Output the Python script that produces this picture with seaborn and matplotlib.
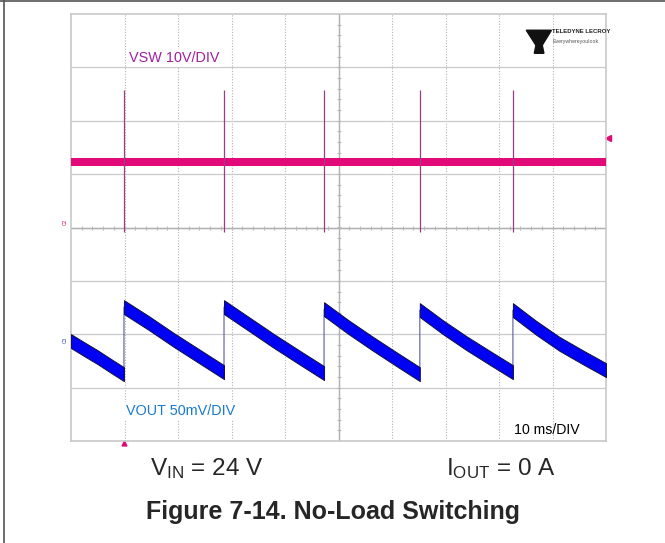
import numpy as np
import matplotlib
matplotlib.use("Agg")
import matplotlib.pyplot as plt
import seaborn as sns
from matplotlib.lines import Line2D

# ---- values read from the scope shot (time in ms, 10 ms/div) ----
spike_t = [9.9, 28.6, 47.3, 65.2, 82.6]          # VSW switching pulses
vsw_level = 11.3                                 # V, idle switch-node level
vsw_peak = 24.7                                  # V, pulse top
vsw_low = -1.9                                   # V, pulse bottom
vsw_half = 0.8                                   # V, trace thickness / 2

seg_start = [0.0, 9.9, 28.6, 47.3, 65.2, 82.6]
seg_end = [9.9, 28.6, 47.3, 65.2, 82.6, 100.0]
# VOUT ripple (mV) at 0, 1/4, 1/2, 3/4 and end of each segment
vout_pts = [
    [-0.9, -8.5, -15.9, -24.0, -31.9],
    [30.9, 15.9, 0.0, -15.0, -30.0],
    [30.9, 15.0, -0.9, -16.0, -30.9],
    [29.0, 12.5, -2.8, -17.5, -31.9],
    [28.1, 12.0, -2.8, -16.5, -30.0],
    [28.1, 11.5, -3.5, -16.0, -28.1],
]
vout_half = 6.5                                     # mV, ripple band / 2

VSW_SCALE, VSW_OFFSET = 10.0, 0.10      # V/div, ground marker in div
VOUT_SCALE, VOUT_OFFSET = 50.0, -2.11   # mV/div

sns.set_style("white")
plt.rcParams["font.family"] = ["Liberation Sans", "DejaVu Sans"]

fig = plt.figure(figsize=(6.65, 5.43), dpi=100)
ax = fig.add_axes([71 / 665, 1 - 441 / 543, 535 / 665, 427 / 543])
ax.set_xlim(0, 100)
ax.set_ylim(-4, 4)

# graticule
for x in range(10, 100, 10):
    ax.axvline(x, color="#b4b4b4", lw=0.8, ls=(0, (1, 1.5)), zorder=0)
for y in range(-3, 4):
    ax.axhline(y, color="#cacaca", lw=0.9, zorder=0)
ax.axhline(0, color="#b0b0b0", lw=1.0, zorder=0)
ax.axvline(50, color="#b0b0b0", lw=1.0, zorder=0)
minor = np.arange(2, 100, 2)
ax.plot(minor, np.zeros_like(minor), ls="none", marker="|", ms=3, mew=0.8,
        color="#b8b8b8", zorder=0)
minor_y = np.arange(-3.8, 4, 0.2)
ax.plot(np.full_like(minor_y, 50), minor_y, ls="none", marker="_", ms=3, mew=0.8,
        color="#b8b8b8", zorder=0)
ax.set_xticks([])
ax.set_yticks([])
for s in ax.spines.values():
    s.set_color("#c8c8c8")
    s.set_linewidth(1.2)

# VSW trace
t_vsw = np.array([0.0, 100.0])
lvl = np.array([vsw_level, vsw_level])
ax.fill_between(t_vsw, (lvl - vsw_half) / VSW_SCALE + VSW_OFFSET,
                (lvl + vsw_half) / VSW_SCALE + VSW_OFFSET,
                color="#e20a78", lw=0, zorder=3)
ax.vlines(spike_t, vsw_low / VSW_SCALE + VSW_OFFSET, vsw_peak / VSW_SCALE + VSW_OFFSET,
          color="#9c3c86", lw=0.9, zorder=4)

# VOUT ripple trace
t_out, v_out = [], []
for a, b, pts in zip(seg_start, seg_end, vout_pts):
    tt = np.linspace(a, b, len(pts))
    vv = np.array(pts)
    ax.fill_between(tt, (vv - vout_half) / VOUT_SCALE + VOUT_OFFSET,
                    (vv + vout_half) / VOUT_SCALE + VOUT_OFFSET,
                    facecolor="#0000f2", edgecolor="#101040", lw=0.7, zorder=3)
    t_out += list(tt)
    v_out += pts
t_out = np.array(t_out)
v_out = np.array(v_out)
sns.lineplot(x=t_out, y=v_out / VOUT_SCALE + VOUT_OFFSET, ax=ax, estimator=None,
             sort=False, color="#5a5a9c", lw=0.8, zorder=2)

# channel labels
ax.text(10.9, 3.18, "VSW 10V/DIV", color="#a0209f", fontsize=10.4, va="center",
        bbox=dict(facecolor="white", edgecolor="none", pad=1.5), zorder=5)
ax.text(10.3, -3.43, "VOUT 50mV/DIV", color="#1a7ad0", fontsize=10.4, va="center",
        bbox=dict(facecolor="white", edgecolor="none", pad=1.5), zorder=5)
ax.text(82.8, -3.79, "10 ms/DIV", color="black", fontsize=10.2, va="center", zorder=5)

# channel / trigger markers
ax.text(-0.7, VSW_OFFSET, "C2", color="#e20a78", fontsize=3.5, rotation=90,
        ha="right", va="center", clip_on=False)
ax.text(-0.7, VOUT_OFFSET, "C3", color="#3040a0", fontsize=3.5, rotation=90,
        ha="right", va="center", clip_on=False)
ax.plot([100.3], [1.68], marker="<", ms=4, color="#e20a78", clip_on=False)
ax.plot([spike_t[0]], [-4.03], marker="^", ms=3.5, color="#e20a78", clip_on=False)

# logo
tr = ax.transAxes
ax.fill([0.851, 0.898, 0.875], [0.962, 0.962, 0.915], color="#111111", transform=tr, zorder=6)
ax.fill([0.875, 0.866, 0.884], [0.962, 0.908, 0.908], color="#111111", transform=tr, zorder=6)
ax.text(0.900, 0.964, "TELEDYNE LECROY", transform=tr, fontsize=4.3, fontweight="bold",
        va="top", ha="left", color="#222222")
ax.text(0.900, 0.942, "Everywhereyoulook", transform=tr, fontsize=3.8,
        va="top", ha="left", color="#555555")

# captions
fig.text(207 / 665, 1 - 469 / 543, r"$\mathregular{V_{IN}}$ = 24 V", fontsize=17.5,
         ha="center", va="center")
fig.text(501 / 665, 1 - 469 / 543, r"$\mathregular{I_{OUT}}$ = 0 A", fontsize=17.5,
         ha="center", va="center")
fig.text(333 / 665, 1 - 512 / 543, "Figure 7-14. No-Load Switching", fontsize=18,
         fontweight="bold", ha="center", va="center")

# page border
fig.add_artist(Line2D([4 / 665, 4 / 665], [0, 1], color="#555555", lw=1.2))
fig.add_artist(Line2D([0, 1], [0.999, 0.999], color="#555555", lw=1.2))

fig.savefig("out.png", dpi=100)
